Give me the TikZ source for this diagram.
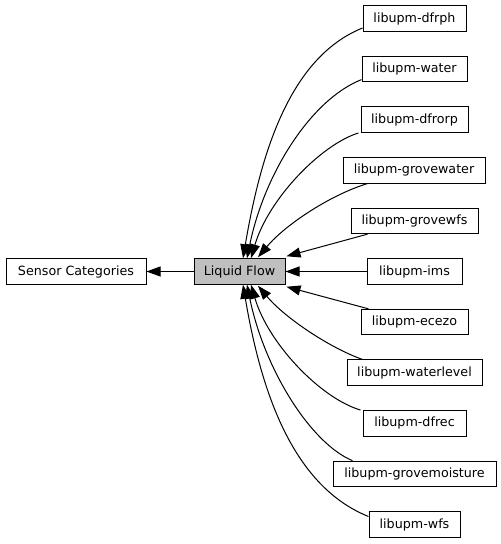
\documentclass[tikz,border=0pt]{standalone}
\usepackage{fontspec}
\setmainfont{DejaVu Sans}
\usetikzlibrary{arrows.meta,calc}
\begin{document}
\begin{tikzpicture}[x=1pt,y=-1pt,
  box/.style={draw=black,line width=1pt,minimum height=25.5pt,inner sep=0pt,
    font=\fontsize{12.7}{15}\selectfont,fill=white},
  edge/.style={line width=1pt,-{Triangle[length=14pt,width=10pt]}}]
\useasboundingbox (0,0) rectangle (501,544);
\node[box,minimum width=140pt] (sc) at (76,271.5) {Sensor Categories};
\node[box,minimum width=91pt,fill={rgb,255:red,191;green,191;blue,191}] (lf) at (239.5,271.5) {Liquid Flow};
\node[box,minimum width=103pt] (dfrph) at (414.5,18.5) {libupm-dfrph};
\node[box,minimum width=105pt] (water) at (414.5,69.1) {libupm-water};
\node[box,minimum width=107pt] (dfrorp) at (414.5,119.7) {libupm-dfrorp};
\node[box,minimum width=142pt] (grovewater) at (414,170.3) {libupm-grovewater};
\node[box,minimum width=127pt] (grovewfs) at (414.5,220.9) {libupm-grovewfs};
\node[box,minimum width=95pt] (ims) at (414.5,271.5) {libupm-ims};
\node[box,minimum width=107pt] (ecezo) at (414.5,322.1) {libupm-ecezo};
\node[box,minimum width=135pt] (waterlevel) at (414.5,372.7) {libupm-waterlevel};
\node[box,minimum width=103pt] (dfrec) at (414.5,423.3) {libupm-dfrec};
\node[box,minimum width=163pt] (grovemoisture) at (414.5,473.9) {libupm-grovemoisture};
\node[box,minimum width=91pt] (wfs) at (414.5,524.5) {libupm-wfs};
% edges
\draw[edge] (lf.west) -- (sc.east);
\draw[edge] ($(dfrph.west)+(0,9.5)$) .. controls (288,58) and (260,158) .. ($(lf.north)+(3.5,0)$);
\draw[edge] ($(water.west)+(0,10.5)$) .. controls (310,100) and (264,175) .. ($(lf.north)+(7.5,0)$);
\draw[edge] ($(dfrorp.south west)+(-2,0)$) .. controls (320,145) and (268,200) .. ($(lf.north)+(11.5,0)$);
\draw[edge] ($(grovewater.south west)+(25,0)$) .. controls (330,195) and (285,225) .. ($(lf.north)+(18.5,-1)$);
\draw[edge] ($(grovewfs.south west)+(17,0)$) -- ($(lf.north east)+(1,-2)$);
\draw[edge] (ims.west) -- (lf.east);
\draw[edge] ($(ecezo.north west)+(8,0)$) -- ($(lf.south east)+(1,2)$);
\draw[edge] ($(waterlevel.north west)+(16,0)$) .. controls (330,348) and (285,318) .. ($(lf.south)+(18.5,1)$);
\draw[edge] ($(dfrec.north west)+(-2,0)$) .. controls (320,398) and (268,343) .. ($(lf.south)+(11.5,0)$);
\draw[edge] ($(grovemoisture.north west)+(20,0)$) .. controls (310,443) and (264,368) .. ($(lf.south)+(7.5,0)$);
\draw[edge] ($(wfs.west)+(0,-8)$) .. controls (290,485) and (260,385) .. ($(lf.south)+(3.5,0)$);
\end{tikzpicture}
\end{document}
